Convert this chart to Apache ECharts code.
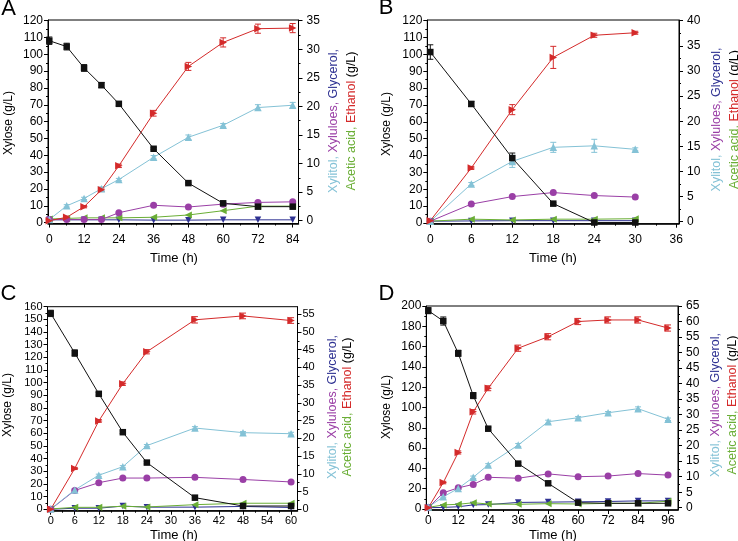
<!DOCTYPE html>
<html>
<head>
<meta charset="utf-8">
<script src="https://cdn.jsdelivr.net/npm/echarts@6/dist/echarts.min.js"></script>
<style>
  html, body { margin: 0; padding: 0; background: #fff; }
  #chart { width: 738px; height: 541px; }
</style>
</head>
<body>
<div id="chart"></div>
<script>
// == Panel A ==
const timeA = [0, 6, 12, 18, 24, 36, 48, 60, 72, 84];
const xyloseA = [108.1, 104.6, 91.9, 81.7, 70.6, 43.9, 23.5, 11.5, 9.5, 9.5];
const xyloseErrA = [2.2, 2.0, 2.0, 1.5, 1.2, 0.6, 0.5, 0.5, 0.5, 0.5];
const xylitolA = [0.2, 2.6, 3.9, 5.6, 7.2, 11.1, 14.6, 16.7, 19.8, 20.2];
const xylitolErrA = [0, 0.2, 0.2, 0.3, 0.2, 0.3, 0.4, 0.3, 0.5, 0.5];
const xyluloseA = [0.2, 0.2, 0.2, 0.2, 1.4, 2.7, 2.4, 2.9, 3.2, 3.3];
const glycerolA = [0.15, 0.15, 0.15, 0.15, 0.15, 0.1, 0.1, 0.15, 0.15, 0.15];
const aceticA = [0.3, 0.4, 0.5, 0.5, 0.5, 0.6, 1.0, 1.75, 2.55, 2.55];
const ethanolA = [0, 0.6, 2.45, 5.4, 9.6, 18.8, 27.0, 31.2, 33.6, 33.7];
const ethanolErrA = [0, 0.2, 0.2, 0.3, 0.3, 0.5, 0.7, 0.8, 0.8, 0.8];

// == Panel B ==
const timeB = [0, 6, 12, 18, 24, 30];
const xyloseB = [101.4, 70.6, 38.5, 11.5, 0.3, 0.3];
const xyloseErrB = [4.3, 1.5, 3.0, 0.5, 0, 0];
const xylitolB = [0.1, 7.5, 12.0, 14.8, 15.1, 14.4];
const xylitolErrB = [0, 0.3, 1.2, 1.0, 1.3, 0.3];
const xyluloseB = [0.1, 3.5, 5.0, 5.8, 5.2, 4.9];
const glycerolB = [0.1, 0.15, 0.2, 0.2, 0.2, 0.2];
const aceticB = [0.1, 0.5, 0.35, 0.5, 0.5, 0.6];
const ethanolB = [0.2, 10.7, 22.3, 32.7, 37.1, 37.6];
const ethanolErrB = [0, 0.3, 1.0, 2.2, 0.4, 0.3];

// == Panel C ==
const timeC = [0, 6, 12, 18, 24, 36, 48, 60];
const xyloseC = [154.7, 123.4, 91.2, 60.9, 36.9, 9.2, 2.6, 2.6];
const xyloseErrC = [2.5, 2.5, 1.0, 1.0, 1.0, 0.5, 0.5, 0.5];
const xylitolC = [0.1, 5.45, 9.6, 12.0, 17.95, 22.9, 21.6, 21.3];
const xylitolErrC = [0, 0.3, 0.3, 0.3, 0.3, 0.4, 0.3, 0.4];
const xyluloseC = [0, 5.3, 7.5, 8.8, 8.8, 9.0, 8.4, 7.7];
const glycerolC = [0, 0.3, 0.3, 0.9, 0.6, 0.6, 0.8, 0.5];
const aceticC = [0.1, 0.55, 0.55, 0.85, 0.65, 1.3, 1.7, 1.7];
const ethanolC = [0, 11.5, 24.9, 35.4, 44.4, 53.4, 54.5, 53.2];
const ethanolErrC = [0, 0.3, 0.4, 0.5, 0.6, 0.9, 0.8, 0.8];

// == Panel D ==
const timeD = [0, 6, 12, 18, 24, 36, 48, 60, 72, 84, 96];
const xyloseD = [195.4, 185.2, 153.4, 111.7, 79.1, 44.7, 25.3, 6.2, 5.6, 5.6, 5.6];
const xyloseErrD = [3, 4, 3, 3, 1.5, 1, 1, 0.5, 0.5, 0.5, 0.5];
const xylitolD = [0.2, 3.5, 6.2, 9.8, 13.8, 20.2, 27.7, 29.0, 30.6, 31.9, 28.5];
const xylitolErrD = [0, 0.3, 0.3, 0.4, 0.4, 0.5, 0.5, 0.4, 0.4, 0.6, 0.4];
const xyluloseD = [0, 4.8, 6.4, 7.5, 9.8, 9.5, 10.9, 10.0, 10.2, 11.0, 10.5];
const glycerolD = [0, 0.1, 0.3, 0.9, 1.0, 1.7, 1.8, 1.9, 2.0, 2.2, 2.2];
const aceticD = [0.1, 0.9, 1.1, 1.6, 1.2, 1.1, 1.3, 1.2, 1.4, 1.4, 2.1];
const ethanolD = [0, 8.1, 17.8, 30.9, 38.5, 51.4, 55.1, 60.0, 60.5, 60.5, 57.9];
const ethanolErrD = [0, 0.4, 0.5, 0.7, 0.8, 1.0, 1.0, 1.0, 1.0, 1.0, 1.0];

// == tick labels ==
const xTicksA = [0, 12, 24, 36, 48, 60, 72, 84];
const xTicksB = [0, 6, 12, 18, 24, 30, 36];
const xTicksC = [0, 6, 12, 18, 24, 30, 36, 42, 48, 54, 60];
const xTicksD = [0, 12, 24, 36, 48, 60, 72, 84, 96];
const leftTicksA = [0, 10, 20, 30, 40, 50, 60, 70, 80, 90, 100, 110, 120];
const leftTicksB = [0, 10, 20, 30, 40, 50, 60, 70, 80, 90, 100, 110, 120];
const leftTicksC = [0, 10, 20, 30, 40, 50, 60, 70, 80, 90, 100, 110, 120, 130, 140, 150, 160];
const leftTicksD = [0, 20, 40, 60, 80, 100, 120, 140, 160, 180, 200];
const rightTicksA = [0, 5, 10, 15, 20, 25, 30, 35];
const rightTicksB = [0, 5, 10, 15, 20, 25, 30, 35, 40];
const rightTicksC = [0, 5, 10, 15, 20, 25, 30, 35, 40, 45, 50, 55];
const rightTicksD = [0, 5, 10, 15, 20, 25, 30, 35, 40, 45, 50, 55, 60, 65];

const C_XYLOSE = '#111111';
const C_XYLITOL = '#84c2d6';
const C_XYLULOSE = '#9a3fa6';
const C_GLYCEROL = '#2e3192';
const C_ACETIC = '#6aae35';
const C_ETHANOL = '#d42a2a';

const FONT = 'Liberation Sans, Arial, sans-serif';

// == 布局 ==
const panels = [
  {
    letter: 'A', time: timeA, xylose: xyloseA, xyloseErr: xyloseErrA, xylitol: xylitolA, xylitolErr: xylitolErrA,
    xylulose: xyluloseA, glycerol: glycerolA, acetic: aceticA, ethanol: ethanolA, ethanolErr: ethanolErrA,
    xTicks: xTicksA, leftTicks: leftTicksA, rightTicks: rightTicksA,
    grid: { left: 48, top: 20, width: 250.5, height: 203.5 },
    xRange: [-0.45, 86], lRange: [-0.5, 120.4], rRange: [-0.49, 35.12],
    font: 12, xMargin: 10, lMargin: 5, rMargin: 8,
    letterPos: [8.5, 8.5], leftTitle: [9, 123], timeTitle: [174, 258], rightTitle: [[333.5, 121], [352, 121]],
  },
  {
    letter: 'B', time: timeB, xylose: xyloseB, xyloseErr: xyloseErrB, xylitol: xylitolB, xylitolErr: xylitolErrB,
    xylulose: xyluloseB, glycerol: glycerolB, acetic: aceticB, ethanol: ethanolB, ethanolErr: ethanolErrB,
    xTicks: xTicksB, leftTicks: leftTicksB, rightTicks: rightTicksB,
    grid: { left: 427.3, top: 20, width: 251.7, height: 203.7 },
    xRange: [-0.44, 36.4], lRange: [-0.4, 120.4], rRange: [-0.4, 40.14],
    font: 12, xMargin: 10, lMargin: 5, rMargin: 8,
    letterPos: [386, 8], leftTitle: [387, 124], timeTitle: [553, 258], rightTitle: [[717, 119.5], [735, 119.5]],
  },
  {
    letter: 'C', time: timeC, xylose: xyloseC, xyloseErr: xyloseErrC, xylitol: xylitolC, xylitolErr: xylitolErrC,
    xylulose: xyluloseC, glycerol: glycerolC, acetic: aceticC, ethanol: ethanolC, ethanolErr: ethanolErrC,
    xTicks: xTicksC, leftTicks: leftTicksC, rightTicks: rightTicksC,
    grid: { left: 47.5, top: 306.7, width: 250, height: 204 },
    xRange: [-0.8, 61.6], lRange: [-1.1, 160], rRange: [-0.4, 57.1],
    font: 11, xMargin: 5, lMargin: 5, rMargin: 5,
    letterPos: [8.5, 293.5], leftTitle: [7.5, 405], timeTitle: [174, 535], rightTitle: [[333, 407], [348, 407]],
  },
  {
    letter: 'D', time: timeD, xylose: xyloseD, xyloseErr: xyloseErrD, xylitol: xylitolD, xylitolErr: xylitolErrD,
    xylulose: xyluloseD, glycerol: glycerolD, acetic: aceticD, ethanol: ethanolD, ethanolErr: ethanolErrD,
    xTicks: xTicksD, leftTicks: leftTicksD, rightTicks: rightTicksD,
    grid: { left: 426.3, top: 306, width: 251.7, height: 204 },
    xRange: [-0.8, 100], lRange: [-1, 200], rRange: [-0.74, 65],
    font: 12, xMargin: 5, lMargin: 5, rMargin: 8,
    letterPos: [386.5, 293.5], leftTitle: [387, 407], timeTitle: [553, 535], rightTitle: [[716, 405], [733, 405]],
  },
];

function mids(arr) {
  const out = [];
  for (let i = 0; i < arr.length - 1; i++) out.push((arr[i] + arr[i + 1]) / 2);
  return out;
}

function axisPair(kind, gridIndex, range, ticks, p, position, margin) {
  const main = {
    type: 'value', gridIndex, min: range[0], max: range[1], position,
    axisLine: { show: true, onZero: false, lineStyle: { color: '#000', width: kind === 'x' ? 1.5 : 1 } },
    axisTick: { show: true, customValues: ticks, length: 4, lineStyle: { color: '#000' } },
    axisLabel: { show: true, customValues: ticks, margin, fontSize: p.font, color: '#000', fontFamily: FONT },
    splitLine: { show: false },
  };
  const minor = {
    type: 'value', gridIndex, min: range[0], max: range[1], position,
    axisLine: { show: false, onZero: false },
    axisTick: { show: true, customValues: mids(ticks), length: 2, lineStyle: { color: '#000' } },
    axisLabel: { show: false },
    splitLine: { show: false },
  };
  return [main, minor];
}

function pts(time, vals) {
  return time.map((t, i) => [t, vals[i]]);
}

function lineSeries(xi, yi, time, vals, color, symbol, rotate, size) {
  return {
    type: 'line', xAxisIndex: xi, yAxisIndex: yi, data: pts(time, vals),
    symbol, symbolRotate: rotate, symbolSize: size, showAllSymbol: true,
    lineStyle: { color, width: 1 }, itemStyle: { color }, z: 3,
  };
}

function errSeries(xi, yi, time, vals, errs, color) {
  return {
    type: 'custom', xAxisIndex: xi, yAxisIndex: yi, silent: true, z: 2,
    data: time.map((t, i) => [t, vals[i], errs[i]]),
    encode: { x: 0, y: 1 },
    renderItem: (params, api) => {
      const x = api.value(0), y = api.value(1), e = api.value(2);
      if (!e) return null;
      const hi = api.coord([x, y + e]);
      const lo = api.coord([x, y - e]);
      const w = 3;
      const st = { stroke: color, lineWidth: 1 };
      return {
        type: 'group',
        children: [
          { type: 'line', shape: { x1: hi[0], y1: hi[1], x2: lo[0], y2: lo[1] }, style: st },
          { type: 'line', shape: { x1: hi[0] - w, y1: hi[1], x2: hi[0] + w, y2: hi[1] }, style: st },
          { type: 'line', shape: { x1: lo[0] - w, y1: lo[1], x2: lo[0] + w, y2: lo[1] }, style: st },
        ],
      };
    },
  };
}

const grids = [], xAxes = [], yAxes = [], series = [], graphics = [];

panels.forEach((p, i) => {
  grids.push(Object.assign({ show: true, borderColor: '#000', borderWidth: 1, containLabel: false }, p.grid));
  xAxes.push(...axisPair('x', i, p.xRange, p.xTicks, p, 'bottom', p.xMargin));
  yAxes.push(...axisPair('y', i, p.lRange, p.leftTicks, p, 'left', p.lMargin));
  yAxes.push(...axisPair('y', i, p.rRange, p.rightTicks, p, 'right', p.rMargin));
  const xi = 2 * i, yl = 4 * i, yr = 4 * i + 2;

  series.push(lineSeries(xi, yr, p.time, p.glycerol, C_GLYCEROL, 'triangle', 180, 6.5));
  series.push(lineSeries(xi, yr, p.time, p.acetic, C_ACETIC, 'triangle', 90, 7));
  series.push(lineSeries(xi, yr, p.time, p.xylulose, C_XYLULOSE, 'circle', 0, 7));
  series.push(errSeries(xi, yr, p.time, p.xylitol, p.xylitolErr, C_XYLITOL));
  series.push(lineSeries(xi, yr, p.time, p.xylitol, C_XYLITOL, 'triangle', 0, 7.5));
  series.push(errSeries(xi, yr, p.time, p.ethanol, p.ethanolErr, C_ETHANOL));
  series.push(lineSeries(xi, yr, p.time, p.ethanol, C_ETHANOL, 'triangle', -90, 7.5));
  series.push(errSeries(xi, yl, p.time, p.xylose, p.xyloseErr, C_XYLOSE));
  series.push(lineSeries(xi, yl, p.time, p.xylose, C_XYLOSE, 'rect', 0, 6.5));

  // == 标题文字 ==
  graphics.push({
    type: 'text', x: p.letterPos[0], y: p.letterPos[1],
    style: { text: p.letter, font: '22px ' + FONT, fill: '#000', align: 'center', verticalAlign: 'middle' },
  });
  graphics.push({
    type: 'text', x: p.leftTitle[0], y: p.leftTitle[1], rotation: Math.PI / 2,
    style: { text: 'Xylose (g/L)', font: '12px ' + FONT, fill: '#000', align: 'center', verticalAlign: 'middle' },
  });
  graphics.push({
    type: 'text', x: p.timeTitle[0], y: p.timeTitle[1],
    style: { text: 'Time (h)', font: '13px ' + FONT, fill: '#000', align: 'center', verticalAlign: 'middle' },
  });
  const rich = {
    a: { fill: C_XYLITOL, fontSize: 12.5, fontFamily: FONT },
    b: { fill: C_XYLULOSE, fontSize: 12.5, fontFamily: FONT },
    c: { fill: C_GLYCEROL, fontSize: 12.5, fontFamily: FONT },
    d: { fill: C_ACETIC, fontSize: 12.5, fontFamily: FONT },
    e: { fill: C_ETHANOL, fontSize: 12.5, fontFamily: FONT },
    f: { fill: '#000', fontSize: 12.5, fontFamily: FONT },
  };
  graphics.push({
    type: 'text', x: p.rightTitle[0][0], y: p.rightTitle[0][1], rotation: Math.PI / 2,
    style: { text: '{a|Xylitol, }{b|Xyluloes, }{c|Glycerol,}', rich, align: 'center', verticalAlign: 'middle' },
  });
  graphics.push({
    type: 'text', x: p.rightTitle[1][0], y: p.rightTitle[1][1], rotation: Math.PI / 2,
    style: { text: '{d|Acetic acid, }{e|Ethanol }{f|(g/L)}', rich, align: 'center', verticalAlign: 'middle' },
  });
});

const myChart = echarts.init(document.getElementById('chart'), null, { renderer: 'canvas' });
const option = {
  animation: false,
  backgroundColor: '#fff',
  grid: grids,
  xAxis: xAxes,
  yAxis: yAxes,
  series,
  graphic: graphics,
};
myChart.setOption(option);
</script>
</body>
</html>
